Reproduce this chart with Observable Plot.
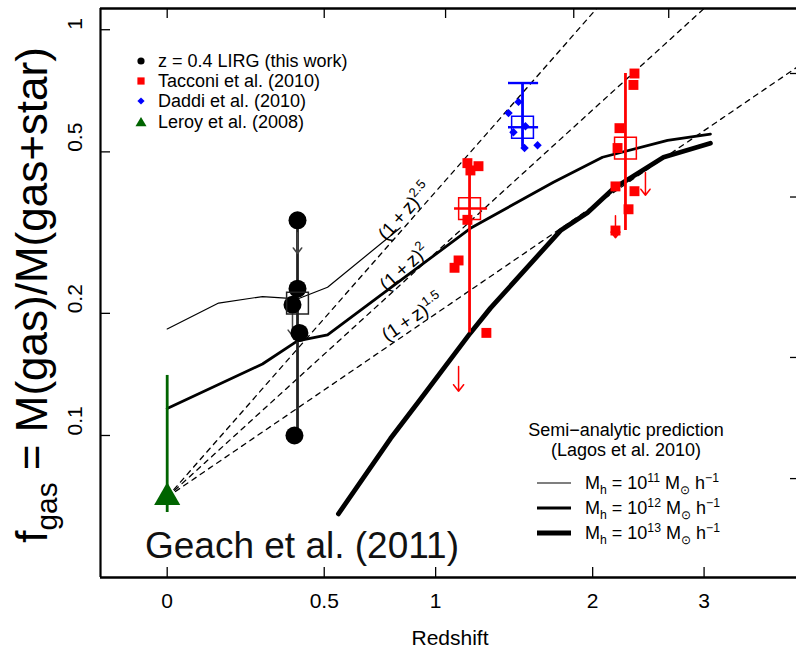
<!DOCTYPE html>
<html><head><meta charset="utf-8">
<script src="https://cdn.jsdelivr.net/npm/d3@7"></script>
<script src="https://cdn.jsdelivr.net/npm/@observablehq/plot@0.6"></script>
<style>
html,body{margin:0;padding:0;background:#fff;}
#wrap{position:relative;width:796px;height:651px;overflow:hidden;font-family:"Liberation Sans",Arial,Helvetica,sans-serif;color:#000;}
#wrap > svg{position:absolute;left:0;top:0;}
.t{position:absolute;white-space:nowrap;line-height:1;}
.t sub,.t sup{line-height:0;font-size:0.68em;}
.sym{position:absolute;overflow:visible;}
</style></head><body><div id="wrap"></div>
<script>
// ---------------- data ----------------
const xTickValues = [0, 0.5, 1, 2, 3];
const xTickLabels = ["0", "0.5", "1", "2", "3"];
const yTickValues = [0.1, 0.2, 0.5, 1];
const yTickLabels = ["0.1", "0.2", "0.5", "1"];
const topTickZ = [0, 0.5, 1.052, 1.857, 2.651];
const rightTickF = [0.780, 0.387, 0.1557, 0.0783];

// z = 0.4 LIRGs (this work)
const lirgZ = [0.400, 0.400, 0.382, 0.407, 0.389];
const lirgF = [0.339, 0.230, 0.210, 0.179, 0.100];
const lirgLimZ = [0.400, 0.382];
const lirgLimFrom = [0.316, 0.199];
const lirgLimTo = [0.281, 0.176];

// Tacconi et al. (2010)
const tacZ = [1.171, 1.234, 1.188, 1.171, 1.122, 1.100, 1.280, 2.342, 2.333, 2.215, 2.199, 2.182, 2.342, 2.291, 2.182];
const tacF = [0.469, 0.461, 0.450, 0.340, 0.270, 0.259, 0.179, 0.780, 0.731, 0.572, 0.511, 0.411, 0.400, 0.361, 0.320];
const tacLimZ = [1.122, 2.438, 2.182];
const tacLimFrom = [0.148, 0.445, 0.348];
const tacLimTo = [0.1285, 0.391, 0.307];

// Daddi et al. (2010)
const dadZ = [1.477, 1.414, 1.445, 1.522, 1.516, 1.602];
const dadF = [0.664, 0.623, 0.559, 0.578, 0.511, 0.519];

// Leroy et al. (2008)
const lerZ = [0];
const lerF = [0.0704];

// group summaries (mean squares and error bars)
const grpName  = ["lirg", "tac1", "tac2", "daddi", "leroy"];
const grpColor = ["#222222", "#ff0000", "#ff0000", "#0000ff", "#006400"];
const grpZ     = [0.400, 1.183, 2.265, 1.503, 0];
const grpF     = [0.212, 0.3625, 0.5105, 0.575, 0.0704];
const grpFLo   = [0.100, 0.179, 0.320, 0.513, 0.0646];
const grpFHi   = [0.339, 0.469, 0.780, 0.739, 0.1406];
const grpZLo   = [null, 1.100, null, 1.414, null];
const grpZHi   = [null, 1.287, null, 1.609, null];
const grpHasMean = [true, true, true, true, false];
const daddiCapF = 0.739;

// Semi-analytic predictions (Lagos et al. 2010)
const m11Z = [0, 0.142, 0.279, 0.400, 0.513, 0.826];
const m11F = [0.183, 0.212, 0.220, 0.217, 0.232, 0.325];
const m12Z = [0, 0.279, 0.400, 0.513, 0.780, 1.188, 1.711, 2.077, 2.640, 3.066];
const m12F = [0.1166, 0.150, 0.171, 0.177, 0.231, 0.324, 0.421, 0.485, 0.534, 0.553];
const m13Z = [0.556, 0.780, 0.923, 1.188, 1.304, 1.761, 1.960, 2.166, 2.602, 3.066];
const m13F = [0.0641, 0.0983, 0.1228, 0.179, 0.206, 0.320, 0.354, 0.406, 0.485, 0.525];

// (1+z)^n scalings anchored at the z=0 point
const powerN = [2.5, 2, 1.5];
const powerLabel = ["2.5", "2", "1.5"];
const powerNorm = 0.0705;
const powerZEnds = [0, 4.2];
const powerLabelZ = 0.775;

// ---------------- scales ----------------
const X0 = 0.8418, X1 = 5.144;   // 1+z
const Y0 = 0.04467, Y1 = 1.128;
const W = 796, H = 651;
const xOpt = {type: "log", domain: [X0, X1], range: [100, 801]};
const yOpt = {type: "log", domain: [Y0, Y1], range: [577, 8]};
const xs = Plot.scale({x: xOpt});
const ys = Plot.scale({y: yOpt});

const pts = (zs, fs) => zs.map((z, i) => ({x: 1 + z, f: fs[i]}));
const lims = (zs, a, b) => zs.map((z, i) => ({x: 1 + z, f1: a[i], f2: b[i]}));
const groups = grpName.map((g, i) => ({g, c: grpColor[i], x: 1 + grpZ[i], f: grpF[i], lo: grpFLo[i], hi: grpFHi[i],
  xl: grpZLo[i] == null ? null : 1 + grpZLo[i], xh: grpZHi[i] == null ? null : 1 + grpZHi[i], m: grpHasMean[i]}));

const powerLines = powerN.flatMap(n => powerZEnds.map(z => ({n, x: 1 + z, f: powerNorm * (1 + z) ** n})));

const powerMarks = powerN.map((n, i) => {
  const a = 1, b = 4;
  const ang = Math.atan2(ys.apply(powerNorm * b ** n) - ys.apply(powerNorm), xs.apply(b) - xs.apply(a));
  const d = 4;
  return Plot.text([{x: 1 + powerLabelZ, f: powerNorm * (1 + powerLabelZ) ** n, t: "(1\u2009+\u2009z)|" + powerLabel[i]}], {
    x: "x", y: "f", text: "t", rotate: ang * 180 / Math.PI, textAnchor: "start", lineAnchor: "bottom",
    dx: d * Math.sin(ang), dy: -d * Math.cos(ang), fontSize: 19, fill: "#000"
  });
});

const chart = Plot.plot({
  width: W, height: H,
  marginLeft: 100, marginRight: 0, marginTop: 8, marginBottom: H - 577,
  x: {...xOpt, axis: null},
  y: {...yOpt, axis: null},
  style: {fontFamily: "'Liberation Sans', Arial, Helvetica, sans-serif", background: "transparent", color: "#000"},
  marks: [
    // power-law guides
    Plot.line(powerLines, {x: "x", y: "f", z: "n", stroke: "#000", strokeWidth: 1.3, strokeDasharray: "5,5", clip: true}),
    // model curves
    Plot.line(pts(m11Z, m11F), {x: "x", y: "f", stroke: "#000", strokeWidth: 1.2, clip: true}),
    Plot.line(pts(m12Z, m12F), {x: "x", y: "f", stroke: "#000", strokeWidth: 2.8, clip: true}),
    Plot.line(pts(m13Z, m13F), {x: "x", y: "f", stroke: "#000", strokeWidth: 4.8, clip: true}),
    // error bars
    Plot.ruleX(groups, {x: "x", y1: "lo", y2: "hi", stroke: "c", strokeWidth: 2.8}),
    Plot.ruleY(groups.filter(d => d.xl != null), {y: "f", x1: "xl", x2: "xh", stroke: "c", strokeWidth: 2.4}),
    Plot.ruleY(groups.filter(d => d.g === "daddi"), {y: () => daddiCapF, x1: "xl", x2: "xh", stroke: "c", strokeWidth: 2.4}),
    // upper-limit arrows
    Plot.arrow(lims(lirgLimZ, lirgLimFrom, lirgLimTo), {x1: "x", x2: "x", y1: "f1", y2: "f2", stroke: "#444", strokeWidth: 1.5, headLength: 10, headAngle: 75}),
    Plot.arrow(lims(tacLimZ, tacLimFrom, tacLimTo), {x1: "x", x2: "x", y1: "f1", y2: "f2", stroke: "#ff0000", strokeWidth: 1.5, headLength: 10, headAngle: 75}),
    // points
    Plot.dot(pts(lirgZ, lirgF), {x: "x", y: "f", r: 9, fill: "#000", stroke: "none"}),
    Plot.dot(pts(tacZ, tacF), {x: "x", y: "f", r: 5.6, symbol: "square", fill: "#ff0000", stroke: "none"}),
    Plot.dot(pts(dadZ, dadF), {x: "x", y: "f", r: 3.8, symbol: "diamond2", fill: "#0000ff", stroke: "none"}),
    Plot.dot(pts(lerZ, lerF), {x: "x", y: "f", r: 9.7, symbol: "triangle", fill: "#006400", stroke: "none"}),
    // group means
    Plot.dot(groups.filter(d => d.m), {x: "x", y: "f", r: 12.3, symbol: "square", fill: "none", stroke: "c", strokeWidth: 1.5}),
    // frame and inward ticks
    Plot.ruleX([X0], {stroke: "#000", strokeWidth: 2.2}),
    Plot.ruleY([Y0, Y1], {stroke: "#000", strokeWidth: 2.4}),
    Plot.tickX(xTickValues, {x: d => 1 + d, insetTop: 559, stroke: "#000", strokeWidth: 1.3}),
    Plot.tickX(topTickZ, {x: d => 1 + d, insetBottom: 559, stroke: "#000", strokeWidth: 1.3}),
    Plot.tickY(yTickValues, {y: d => d, insetRight: 686, stroke: "#000", strokeWidth: 1.3}),
    Plot.tickY(rightTickF, {y: d => d, insetLeft: 690, stroke: "#000", strokeWidth: 1.3}),
    // tick labels
    Plot.text(xTickValues.map((v, i) => ({x: 1 + v, t: xTickLabels[i]})), {x: "x", text: "t", frameAnchor: "bottom", dy: 30, fontSize: 21, fill: "#000"}),
    Plot.text(yTickValues.map((v, i) => ({y: v, t: yTickLabels[i]})), {y: "y", text: "t", frameAnchor: "left", dx: -25, rotate: -90, fontSize: 21, fill: "#000"}),
    ...powerMarks
  ]
});

const wrap = document.getElementById("wrap");
wrap.appendChild(chart);

// superscripts in the (1+z)^n labels
d3.select(chart).selectAll("text").each(function () {
  const s = this.textContent;
  if (s.indexOf("|") < 0) return;
  const [base, ex] = s.split("|");
  const t = d3.select(this);
  t.text(null);
  t.append("tspan").text(base);
  t.append("tspan").attr("dy", "-0.6em").attr("font-size", 13).text(ex);
});

// ---------------- html text overlays ----------------
function addText(html, x, y, size, anchor = "start", extra = "") {
  const d = document.createElement("div");
  d.className = "t";
  d.innerHTML = html;
  const tx = anchor === "middle" ? "-50%" : anchor === "end" ? "-100%" : "0";
  d.style.cssText = `left:${x}px;top:${y}px;font-size:${size}px;transform:translate(${tx},-50%);${extra}`;
  wrap.appendChild(d);
  return d;
}
function addSym(svgInner, cx, cy, w, h) {
  const ns = "http://www.w3.org/2000/svg";
  const s = document.createElementNS(ns, "svg");
  s.setAttribute("class", "sym");
  s.setAttribute("width", w); s.setAttribute("height", h);
  s.setAttribute("viewBox", `${-w / 2} ${-h / 2} ${w} ${h}`);
  s.style.left = (cx - w / 2) + "px"; s.style.top = (cy - h / 2) + "px";
  s.innerHTML = svgInner;
  wrap.appendChild(s);
}

// axis titles
const yl = addText("f<sub>gas</sub> = M(gas)/M(gas+star)", 32, 295, 44, "middle");
yl.style.transform = "translate(-50%,-50%) rotate(-90deg)";
addText("Redshift", 450, 637, 21, "middle");

// data legend
const legRows = [
  {y: 61, label: "z = 0.4 LIRG (this work)", sym: '<circle r="3.6" fill="#000"/>'},
  {y: 81, label: "Tacconi et al. (2010)", sym: '<rect x="-3.6" y="-3.6" width="7.2" height="7.2" fill="#ff0000"/>'},
  {y: 101, label: "Daddi et al. (2010)", sym: '<path d="M0,-3.6L3.6,0L0,3.6L-3.6,0Z" fill="#0000ff"/>'},
  {y: 121.5, label: "Leroy et al. (2008)", sym: '<path d="M0,-5L5.5,4.2L-5.5,4.2Z" fill="#006400"/>'}
];
legRows.forEach(r => { addSym(r.sym, 141, r.y, 14, 14); addText(r.label, 158, r.y, 18); });

// model legend
addText("Semi\u2212analytic prediction", 626, 430, 18, "middle");
addText("(Lagos et al. 2010)", 626, 450, 18, "middle");
const modelRows = [
  {y: 483, w: 1.2, exp: "11"},
  {y: 508, w: 2.8, exp: "12"},
  {y: 533, w: 4.8, exp: "13"}
];
modelRows.forEach(r => {
  addSym(`<line x1="-17" x2="17" y1="0" y2="0" stroke="#000" stroke-width="${r.w}"/>`, 554, r.y, 36, 8);
  addText(`M<sub>h</sub> = 10<sup>${r.exp}</sup> M<sub>\u2299</sub> h<sup>\u22121</sup>`, 585, r.y, 18);
});

// citation
addText("Geach et al. (2011)", 145, 545, 37, "start", "color:#111;");
</script></body></html>
